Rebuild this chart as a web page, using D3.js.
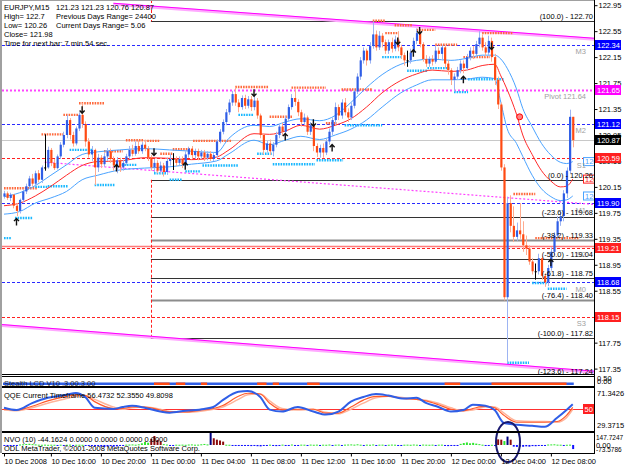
<!DOCTYPE html>
<html>
<head>
<meta charset="utf-8">
<script src="https://cdn.jsdelivr.net/npm/d3@7"></script>
<style>
  body { margin: 0; background: #fff; }
  svg { display: block; }
  text { font-family: "Liberation Sans", Arial, sans-serif; font-size: 7.5px; }
  text.small { font-size: 6.5px; }
</style>
</head>
<body>
<svg id="chart" width="625" height="469"></svg>
<script>
// ---------- candles, EURJPY M15 (bar 0 = 10 Dec 12:15) ----------
const opens = [
  120.00,120.05,119.98,120.03,119.86,119.78,119.95,120.08,120.16,120.28,
  120.20,120.36,120.26,120.45,120.45,120.72,120.52,120.44,120.62,120.80,
  120.95,121.18,120.95,120.82,121.05,121.26,121.12,120.85,120.65,120.72,
  120.45,120.60,120.50,120.62,120.70,120.58,120.48,120.56,120.45,120.52,
  120.62,120.72,120.66,120.78,120.70,120.80,120.74,120.60,120.45,120.52,
  120.40,120.48,120.38,120.55,120.58,120.58,120.52,120.58,120.50,120.65,
  120.74,120.64,120.70,120.62,120.68,120.60,120.66,120.58,120.64,120.85,
  121.00,121.15,121.30,121.45,121.58,121.45,121.38,121.52,121.40,121.50,
  121.38,121.48,121.25,120.95,120.72,120.82,120.70,120.80,120.95,121.08,
  121.00,121.20,121.38,121.52,121.46,121.30,121.15,121.22,121.00,121.10,
  120.78,120.68,120.75,120.68,120.85,121.00,121.18,121.38,121.25,121.45,
  121.30,121.22,121.40,121.62,121.85,122.10,122.25,122.10,122.32,122.50,
  122.30,122.48,122.38,122.25,122.38,122.28,122.42,122.30,122.18,122.10,
  122.10,122.22,122.40,122.52,122.35,122.12,122.05,122.12,122.08,122.25,
  122.20,122.30,122.05,121.95,121.80,121.85,121.95,122.05,121.98,122.15,
  122.25,122.20,122.35,122.45,122.30,122.22,122.40,122.15,121.80,121.42,
  120.45,118.45,119.90,119.55,119.38,119.48,119.42,119.25,119.20,119.00,
  118.85,118.85,119.05,118.78,118.68,118.90,119.15,119.40,119.62,119.70,
  120.05,120.40,121.23];
const highs = [
  120.09,120.08,120.06,120.04,119.90,119.97,120.11,120.20,120.32,120.35,
  120.40,120.41,120.48,120.96,120.77,120.75,120.58,120.65,120.84,121.00,
  121.26,121.21,121.00,121.08,121.30,121.44,121.16,120.90,120.78,120.74,
  120.66,120.64,120.67,120.75,120.74,120.62,120.61,120.60,120.57,120.66,
  120.78,120.80,120.85,120.86,120.84,120.87,120.78,120.64,120.58,120.56,
  120.54,120.52,120.60,120.66,120.67,120.62,120.62,120.62,120.70,120.77,
  120.78,120.74,120.74,120.72,120.72,120.70,120.70,120.68,120.88,121.04,
  121.19,121.35,121.50,121.63,121.69,121.50,121.56,121.57,121.55,121.55,
  121.56,121.52,121.28,120.98,120.86,120.88,120.84,121.00,121.12,121.14,
  121.24,121.42,121.58,121.65,121.50,121.34,121.28,121.25,121.15,121.12,
  120.82,120.80,120.82,120.90,121.05,121.22,121.45,121.42,121.50,121.52,
  121.36,121.45,121.66,121.90,122.15,122.30,122.28,122.38,122.70,122.56,
  122.55,122.52,122.42,122.42,122.45,122.48,122.55,122.34,122.22,122.25,
  122.28,122.45,122.59,122.56,122.38,122.18,122.16,122.18,122.32,122.30,
  122.34,122.32,122.10,121.98,121.90,122.00,122.10,122.10,122.20,122.30,
  122.32,122.40,122.55,122.50,122.38,122.48,122.45,122.20,121.85,121.45,
  120.50,120.00,120.02,119.85,119.60,119.90,119.62,119.40,119.25,119.05,
  118.97,119.12,119.08,118.82,118.95,119.22,119.45,119.70,119.78,120.10,
  120.45,121.34,121.23];
const lows = [
  119.97,119.95,119.93,119.82,119.70,119.74,119.92,120.04,120.12,120.16,
  120.17,120.22,120.21,120.40,120.43,120.47,120.41,120.42,120.58,120.76,
  120.90,120.88,120.77,120.79,121.01,121.06,120.77,120.60,120.55,120.18,
  120.38,120.44,120.46,120.55,120.52,120.40,120.36,120.38,120.40,120.48,
  120.58,120.62,120.63,120.66,120.66,120.70,120.55,120.40,120.38,120.36,
  120.35,120.31,120.34,120.48,120.41,120.47,120.48,120.44,120.46,120.60,
  120.58,120.58,120.56,120.58,120.55,120.56,120.55,120.55,120.60,120.82,
  120.96,121.10,121.26,121.40,121.40,121.30,121.34,121.35,121.36,121.32,
  121.33,121.20,120.90,120.65,120.68,120.64,120.62,120.76,120.90,120.94,
  120.97,121.16,121.34,121.40,121.24,121.08,121.10,120.95,120.95,120.70,
  120.61,120.60,120.60,120.64,120.80,120.95,121.12,121.18,121.20,121.25,
  121.15,121.18,121.36,121.58,121.80,122.05,122.02,122.05,122.28,122.25,
  122.26,122.30,122.20,122.20,122.22,122.24,122.24,122.12,122.02,122.00,
  122.05,122.18,122.35,122.30,122.08,122.00,122.00,122.02,122.05,122.12,
  122.10,121.98,121.88,121.72,121.62,121.80,121.90,121.90,121.95,122.10,
  122.12,122.15,122.30,122.25,122.15,122.18,122.08,121.72,121.35,120.40,
  118.40,117.43,119.45,119.30,119.32,119.35,119.15,119.10,118.95,118.80,
  118.72,118.80,118.72,118.61,118.62,118.86,119.10,119.35,119.55,119.62,
  119.98,120.35,120.76];
const closes = [
  120.05,119.98,120.03,119.86,119.78,119.95,120.08,120.16,120.28,120.20,
  120.36,120.26,120.45,120.45,120.72,120.52,120.44,120.62,120.80,120.95,
  121.18,120.95,120.82,121.05,121.26,121.12,120.85,120.65,120.72,120.45,
  120.60,120.50,120.62,120.70,120.58,120.48,120.56,120.45,120.52,120.62,
  120.72,120.66,120.78,120.70,120.80,120.74,120.60,120.45,120.52,120.40,
  120.48,120.38,120.55,120.58,120.58,120.52,120.58,120.50,120.65,120.74,
  120.64,120.70,120.62,120.68,120.60,120.66,120.58,120.64,120.85,121.00,
  121.15,121.30,121.45,121.58,121.45,121.38,121.52,121.40,121.50,121.38,
  121.48,121.25,120.95,120.72,120.82,120.70,120.80,120.95,121.08,121.00,
  121.20,121.38,121.52,121.46,121.30,121.15,121.22,121.00,121.10,120.78,
  120.68,120.75,120.68,120.85,121.00,121.18,121.38,121.25,121.45,121.30,
  121.22,121.40,121.62,121.85,122.10,122.25,122.10,122.32,122.50,122.30,
  122.48,122.38,122.25,122.38,122.28,122.42,122.30,122.18,122.10,122.10,
  122.22,122.40,122.52,122.35,122.12,122.05,122.12,122.08,122.25,122.20,
  122.30,122.05,121.95,121.80,121.85,121.95,122.05,121.98,122.15,122.25,
  122.20,122.35,122.45,122.30,122.22,122.40,122.15,121.80,121.42,120.45,
  118.45,119.90,119.55,119.38,119.48,119.42,119.25,119.20,119.00,118.85,
  118.85,119.05,118.78,118.68,118.90,119.15,119.40,119.62,119.70,120.05,
  120.40,121.23,120.87];

// moving average + envelope, read at a few bars
const maBars  = [0,5,10,15,20,25,30,37,45,53,60,68,72,80,85,90,95,101,106,111,116,121,127,132,137,143,148,153,157,159,161,164,166,169,172,175,178,180,182];
const maMid   = [119.86,119.90,120.01,120.16,120.33,120.48,120.54,120.55,120.60,120.59,120.57,120.61,120.72,120.97,120.96,121.01,121.10,121.04,121.10,121.20,121.38,121.60,121.79,121.89,121.95,121.93,121.95,122.02,122.04,121.86,121.65,121.27,120.95,120.65,120.40,120.24,120.15,120.16,120.27];
const maUpper = [120.00,120.06,120.17,120.33,120.49,120.65,120.69,120.72,120.74,120.72,120.70,120.68,120.90,121.10,121.08,121.15,121.20,121.17,121.25,121.45,121.68,121.88,122.04,122.10,122.12,122.10,122.13,122.18,122.18,122.12,121.98,121.66,121.36,121.08,120.82,120.64,120.53,120.51,120.54];
const maLower = [119.73,119.77,119.90,119.98,120.08,120.26,120.33,120.41,120.44,120.46,120.50,120.55,120.66,120.87,120.80,120.87,120.93,120.88,120.95,121.04,121.18,121.38,121.60,121.72,121.80,121.80,121.81,121.84,121.82,121.45,121.05,120.82,120.62,120.33,120.12,120.00,119.94,119.95,120.01];

// pivot levels
const pivotPrices = [122.34, 121.65, 121.12, 120.59, 119.90, 119.21, 118.68, 118.15];
const pivotNames  = ["M3", "Pivot 121.64", "M2", "S1", "M1", "S2", "M0", "S3"];
const pivotTypes  = ["mid", "pivot", "mid", "sup", "mid", "sup", "mid", "sup"];

// fibonacci
const fibLevels = ["100.0", "0.0", "-23.6", "-38.2", "-50.0", "-61.8", "-76.4", "-100.0", "-123.6"];
const fibPrices = [122.70, 120.26, 119.68, 119.33, 119.04, 118.75, 118.40, 117.82, 117.24];
const fibStartBar = 47;

// trend channel [bar, price] pairs
const channelTop = [[35, 122.98], [189, 122.44]];
const channelBottom = [[-1, 118.03], [189, 117.31]];
const channelMid = [[13, 120.53], [189, 119.88]];

// fractal levels [startBar, endBar, price]
const resistLevels = [[0,10.6,120.13],[12,19,120.96],[19,24,121.26],[24,32,121.44],[32,38,120.70],[39,44.5,120.87],
  [45,50,120.86],[50,54,120.66],[54,59.5,120.73],[60.5,73,120.86],[74,84.5,121.69],[85,92.5,121.23],[92,103,121.68],
  [103,106.5,121.13],[108,118,121.65],[118,122,122.71],[122,126,122.52],[125,130.5,122.64],[132,138,122.57],
  [138,145,122.34],[147,155.5,122.15],[153,163,122.52],[163,170,120.04],[170,184,119.36]];
const supportLevels = [[0,2.5,119.36],[3.5,9,119.67],[10,14,120.15],[14,20.5,120.16],[21,28.5,120.72],[29,35.5,120.18],
  [36,42.5,120.49],[48,52.5,120.36],[53,57,120.26],[58,63,120.39],[63.5,75,120.48],[75,80,121.26],[81,86,120.66],
  [86,99.5,120.50],[100,108.5,120.56],[109,121,121.10],[121,127.5,122.15],[129,135.5,121.94],[135.5,142.5,121.98],
  [144,148.5,121.61],[148.5,160,121.81],[161,168,117.44],[169,174,118.67],[174,180,118.58]];

// fractal arrows
const arrowBars   = [25, 48, 80, 99, 126, 133, 156, 4, 36, 58, 90, 105, 131, 147, 175];
const arrowPrices = [121.34, 120.69, 121.60, 121.14, 122.40, 122.56, 122.32, 119.61, 120.44, 120.47, 120.92, 120.75, 122.21, 121.80, 118.98];
const arrowDirs   = ["down","down","down","down","down","down","down","up","up","up","up","up","up","up","up"];

// price axis
const priceTicks = [117.35,117.75,118.15,118.55,118.95,119.35,119.75,120.15,120.55,120.95,121.35,121.75,122.15,122.55,122.95];

// time axis
const timeBars = [0, 15, 31, 47, 63, 79, 95, 111, 127, 143, 159, 175];
const timeLabels = ["10 Dec 2008", "10 Dec 16:00", "10 Dec 20:00", "11 Dec 00:00", "11 Dec 04:00", "11 Dec 08:00",
  "11 Dec 12:00", "11 Dec 16:00", "11 Dec 20:00", "12 Dec 00:00", "12 Dec 04:00", "12 Dec 08:00"];

// Stealth LCD red stretches [startBar, endBar]
const lcdRed = [[48,53],[55,58],[63,65],[81,84],[86,88],[97,101],[141,146],[156,180]];

// QQE
const qqeBars  = [0,4,9,14,20,23,26,29,35,38,41,45,50,53,58,64,67,70,75,78,82,85,89,94,99,103,107,111,115,119,123,128,132,135,139,143,147,150,154,157,160,164,169,173,177,180,182];
const qqeFast  = [52,49,58,65,69,71.5,66,52,50.5,53,54.5,52,47,45.5,48,50.5,53,62,73,74,66,49.5,47,53,47,43,47,60,66,70,68,64,65,58.5,53,47,49,56,54.5,49,32,29.7,28.3,27,38.8,49,56.5];
const qqeSlow  = [50,49,54,61,67,69,68,60,51,51,53,53,49,46.5,46.5,49.5,51,55,67,71,70,58,49,50,50,45,45,53,62,67,67,64,63,61,56,50,48,51,54,52,42,33,33,33,34,42,52.4];
const qqeTrail = [49,48,52,58,64,67,68,63,53,50,52,53,50,47,46,48,50,53,63,69,70,61,51,49,50,46,44,50,58,65,67,65,63,62,58,52,48,49,53,53,45,35,34,34,33,39,49.8];

// NVO histogram
const nvo = [
  -15,-20,-10,-8,-12,8,12,18,22,15,   10,5,4,6,3,5,4,-6,5,-8,
  4,6,-5,4,5,3,-10,-15,-20,-25,       -18,-30,-35,-28,-22,-30,-25,-15,-10,6,
  8,10,5,12,30,55,40,110,160,90,      60,15,8,-10,-6,5,4,6,3,8,
  10,5,6,12,18,10,215,120,95,80,      60,5,4,-4,-6,-5,-8,-12,-18,-20,
  -15,-22,-25,-10,-18,5,-12,-20,-15,6, -10,-14,8,-8,-12,6,5,-6,7,4,
  6,-5,5,4,8,-6,5,7,-4,6,             8,10,6,12,5,-8,6,4,9,-5,
  5,6,-6,4,7,5,-8,-10,5,6,            4,8,5,-6,7,5,4,6,-5,5,
  6,-15,-20,-12,-10,-6,20,35,45,30,   38,25,15,5,-6,-10,4,-12,100,95,
  70,150,95,-30,-35,-28,-32,-25,-30,-20, -22,-15,-18,-12,8,10,12,6,5,-5,
  4,6,-73];
const nvoStrongBars = [47,48,49,50,67,68,69,70,158,159,162];
const nvoPeakBars = [66,161];

// ---------- layout ----------
const W = 625, H = 469;
const left = 2, right = 594;
const mainTop = 1, mainBottom = 374;

const x = d3.scaleLinear().domain([0, closes.length - 1]).range([4, 572.75]);
const y = d3.scaleLinear().domain([117.35, 122.95]).range([368.6, 5.2]);
const yQ = d3.scaleLinear().domain([29.3715, 71.3426]).range([425, 393]);
const yN = d3.scaleLinear().domain([-73.5786, 147.7247]).range([449.1, 436.7]);
const crisp = v => Math.round(v) + 0.5;

const svg = d3.select("#chart");
svg.append("rect").attr("width", W).attr("height", H).attr("fill", "#fff");

const defs = svg.append("defs");
defs.append("clipPath").attr("id", "clipMain").append("rect")
  .attr("x", left).attr("y", mainTop).attr("width", right - left).attr("height", mainBottom - mainTop);
defs.append("clipPath").attr("id", "clipQ").append("rect")
  .attr("x", left).attr("y", 388).attr("width", right - left).attr("height", 43);

const main = svg.append("g").attr("clip-path", "url(#clipMain)");

const typeColor = { mid: "#2a2aff", pivot: "#ff44ff", sup: "#ff2020" };

// pivot lines
pivotPrices.forEach((p, i) => {
  const t = pivotTypes[i];
  main.append("line")
    .attr("x1", left).attr("x2", right).attr("y1", crisp(y(p))).attr("y2", crisp(y(p)))
    .attr("stroke", typeColor[t])
    .attr("stroke-width", t === "pivot" ? 2 : 1)
    .attr("stroke-dasharray", t === "pivot" ? "2,2" : "3,2");
});
// extra solid line just above S2
main.append("line").attr("x1", left).attr("x2", right)
  .attr("y1", crisp(y(119.24))).attr("y2", crisp(y(119.24)))
  .attr("stroke", "#ff7a7a").attr("stroke-width", 1.5);

// bid line
const bid = closes[closes.length - 1];
main.append("line").attr("x1", left).attr("x2", right)
  .attr("y1", crisp(y(bid))).attr("y2", crisp(y(bid)))
  .attr("stroke", "#c8c8c8");

// fibonacci
fibPrices.forEach((p, i) => {
  const lvl = fibLevels[i];
  const grey = lvl === "-38.2" || lvl === "-76.4";
  main.append("line")
    .attr("x1", x(fibStartBar)).attr("x2", right)
    .attr("y1", crisp(y(p))).attr("y2", crisp(y(p)))
    .attr("stroke", grey ? "#8c8c8c" : "#333")
    .attr("stroke-width", grey ? 2 : 1);
});
const fx = crisp(x(fibStartBar));
main.append("line").attr("x1", fx).attr("x2", fx).attr("y1", 0).attr("y2", y(fibPrices[0]))
  .attr("stroke", "#ff2020").attr("stroke-dasharray", "3,2");
main.append("line").attr("x1", fx).attr("x2", fx).attr("y1", y(fibPrices[1])).attr("y2", y(fibPrices[7]))
  .attr("stroke", "#ff2020").attr("stroke-dasharray", "3,2");

// channel
const seg = d3.line().x(d => x(d[0])).y(d => y(d[1]));
[channelTop, channelBottom].forEach(c => {
  main.append("path").attr("d", seg(c)).attr("stroke", "#ffa8ff").attr("stroke-width", 3).attr("fill", "none")
    .attr("transform", "translate(0,1)");
  main.append("path").attr("d", seg(c)).attr("stroke", "#ff00ff").attr("stroke-width", 1).attr("fill", "none");
});
main.append("path").attr("d", seg(channelMid)).attr("stroke", "#ff40ff").attr("stroke-width", 1.2)
  .attr("stroke-dasharray", "2,2").attr("fill", "none");

// fractal levels
function levels(data, color) {
  main.selectAll(null).data(data).join("line")
    .attr("x1", d => x(d[0])).attr("x2", d => x(d[1]))
    .attr("y1", d => y(d[2])).attr("y2", d => y(d[2]))
    .attr("stroke", color).attr("stroke-width", 2.4).attr("stroke-dasharray", "1.6,1");
}
levels(resistLevels, "#ff6a3d");
levels(supportLevels, "#1ab8ff");

// moving averages
const maLine = arr => d3.line().curve(d3.curveMonotoneX)
  .x((d, i) => x(maBars[i])).y(d => y(d))(arr);
main.append("path").attr("d", maLine(maUpper)).attr("stroke", "#4aa3ff").attr("fill", "none");
main.append("path").attr("d", maLine(maLower)).attr("stroke", "#4aa3ff").attr("fill", "none");
main.append("path").attr("d", maLine(maMid)).attr("stroke", "#ff2a2a").attr("fill", "none");

// candles
const bars = closes.map((c, i) => ({ i, o: opens[i], h: highs[i], l: lows[i], c }));
const candle = main.selectAll("g.candle").data(bars).join("g").attr("class", "candle");
candle.append("line")
  .attr("x1", d => crisp(x(d.i))).attr("x2", d => crisp(x(d.i)))
  .attr("y1", d => y(d.h)).attr("y2", d => y(d.l))
  .attr("stroke", d => d.c > d.o ? "#9db4f2" : d.c < d.o ? "#ffab8f" : "#000");
candle.append("rect")
  .attr("x", d => x(d.i) - 0.6).attr("width", 2.2)
  .attr("y", d => y(Math.max(d.o, d.c)))
  .attr("height", d => Math.max(1, Math.abs(y(d.o) - y(d.c))))
  .attr("fill", d => d.c > d.o ? "#2f5ee6" : d.c < d.o ? "#ff4a12" : "#000");

// arrows
arrowBars.forEach((b, i) => {
  const cx = x(b), cy = y(arrowPrices[i]);
  const s = arrowDirs[i] === "down" ? 1 : -1;
  main.append("path")
    .attr("d", `M${cx},${cy - 3.5 * s}V${cy + 3.5 * s}M${cx - 2.5},${cy + 0.8 * s}L${cx},${cy + 3.5 * s}L${cx + 2.5},${cy + 0.8 * s}`)
    .attr("stroke", "#111").attr("stroke-width", 1.4).attr("fill", "none");
});

// MA cross marker
main.append("circle").attr("cx", x(165)).attr("cy", y(121.23)).attr("r", 3)
  .attr("fill", "#ff8080").attr("stroke", "#ff0000");

// envelope price tags at right edge
[[maUpper, "#4aa3ff"], [maMid, "#ff2020"], [maLower, "#4aa3ff"]].forEach(([arr, col]) => {
  const v = arr[arr.length - 1];
  main.append("rect").attr("x", 583.5).attr("y", y(v) - 4).attr("width", 14).attr("height", 8)
    .attr("fill", "#fff").attr("stroke", col);
  main.append("text").attr("x", 585).attr("y", y(v) + 2.7).attr("fill", col).text(v.toFixed(2));
});

// pivot names
pivotPrices.forEach((p, i) => {
  main.append("text").attr("x", 586).attr("y", y(p) + 9.5).attr("text-anchor", "end")
    .attr("fill", "#a0a0a0").text(pivotNames[i]);
});

// fib texts
fibPrices.forEach((p, i) => {
  main.append("text").attr("x", 593).attr("y", y(p) - 2).attr("text-anchor", "end")
    .attr("fill", "#000").text(`(${fibLevels[i]}) - ${p.toFixed(2)}`);
});

// header
const header = [
  ["EURJPY,M15", `${opens[182].toFixed(2)} ${highs[182].toFixed(2)} ${lows[182].toFixed(2)} ${closes[182].toFixed(2)}`],
  ["High= 122.7", "Previous Days Range= 24400"],
  ["Low= 120.26", "Current Days Range= 5.06"],
  ["Close= 121.98", ""],
  ["Time for next bar: 7 min 54 sec.", ""]
];
header.forEach((r, i) => {
  svg.append("text").attr("x", 4).attr("y", 9.5 + i * 9).attr("fill", "#000").text(r[0]);
  if (r[1]) svg.append("text").attr("x", 56).attr("y", 9.5 + i * 9).attr("fill", "#000").text(r[1]);
});

// ---------- Stealth LCD panel ----------
svg.append("rect").attr("x", x(0) - 1).attr("y", 382.5).attr("width", x(182) - x(0) + 2).attr("height", 2.5)
  .attr("fill", "#2f5ee6");
lcdRed.forEach(r => {
  svg.append("rect").attr("x", x(r[0])).attr("y", 382.5).attr("width", x(r[1]) - x(r[0])).attr("height", 2.5)
    .attr("fill", "#ff4a12");
});
svg.append("text").attr("x", 4).attr("y", 385.5).attr("fill", "#000").attr("opacity", 0.8)
  .text("Stealth LCD V10 ,3.00,3.00");

// ---------- QQE panel ----------
const q = svg.append("g").attr("clip-path", "url(#clipQ)");
q.append("line").attr("x1", left).attr("x2", right).attr("y1", crisp(yQ(50))).attr("y2", crisp(yQ(50)))
  .attr("stroke", "#ff3030");
const qLine = arr => d3.line().curve(d3.curveMonotoneX).x((d, i) => x(qqeBars[i])).y(d => yQ(d))(arr);
q.append("path").attr("d", qLine(qqeTrail)).attr("stroke", "#ffb49a").attr("stroke-width", 1.5).attr("fill", "none");
q.append("path").attr("d", qLine(qqeSlow)).attr("stroke", "#ff5a2a").attr("stroke-width", 1.2).attr("fill", "none");
q.append("path").attr("d", qLine(qqeFast)).attr("stroke", "#2f5ee6").attr("stroke-width", 2).attr("fill", "none");
svg.append("text").attr("x", 4).attr("y", 397.5).attr("fill", "#000")
  .text("QQE Current Timeframe 56.4732 52.3550 49.8098");

// ---------- NVO panel ----------
const strong = new Set(nvoStrongBars), peak = new Set(nvoPeakBars);
svg.append("g").selectAll("rect").data(nvo).join("rect")
  .attr("x", (d, i) => x(i) - 0.6).attr("width", 2)
  .attr("y", d => yN(Math.max(0, d)))
  .attr("height", d => Math.max(1, Math.abs(yN(d) - yN(0))))
  .attr("fill", (d, i) => peak.has(i) ? "#000080" : strong.has(i) ? "#8b0a0a" : d < 0 ? "#1010ff" : "#2ee62e");
svg.append("text").attr("x", 4).attr("y", 441.5).attr("fill", "#000")
  .text("NVO (10) -44.1624 0.0000 0.0000 0.0000 0.0000");
svg.append("text").attr("x", 4).attr("y", 451).attr("fill", "#000")
  .text("ODL MetaTrader, \u00a92001-2008 MetaQuotes Software Corp.");
svg.append("ellipse").attr("cx", 508).attr("cy", 442).attr("rx", 12).attr("ry", 20)
  .attr("fill", "none").attr("stroke", "#1a1a70").attr("stroke-width", 2);

// ---------- frames ----------
svg.append("rect").attr("x", 0).attr("y", 0).attr("width", 2).attr("height", 453).attr("fill", "#a0a0a0");
svg.append("line").attr("x1", left).attr("x2", right).attr("y1", 0.5).attr("y2", 0.5).attr("stroke", "#a0a0a0");
[374.5, 376.5, 386.5, 387.5, 431.5, 432.5, 453.5].forEach(v => {
  svg.append("line").attr("x1", left).attr("x2", right).attr("y1", v).attr("y2", v).attr("stroke", "#000");
});
svg.append("line").attr("x1", right + 0.5).attr("x2", right + 0.5).attr("y1", 0).attr("y2", 454).attr("stroke", "#000");

// price axis
const yAxis = d3.axisRight(y).tickValues(priceTicks).tickSize(3).tickFormat(d3.format(".2f"));
svg.append("g").attr("transform", `translate(${right + 0.5},0)`).call(yAxis)
  .call(g => g.select(".domain").remove())
  .call(g => g.selectAll("text").attr("x", 4).attr("fill", "#000"));

// price tags
const tags = pivotPrices.map((p, i) => [p, typeColor[pivotTypes[i]]]).concat([[bid, "#000"]]);
tags.forEach(([p, col]) => {
  svg.append("rect").attr("x", right + 1).attr("y", Math.round(y(p)) - 5).attr("width", 26).attr("height", 10)
    .attr("fill", col === "#ff44ff" ? "#ff00ff" : col === "#2a2aff" ? "#0000ff" : col);
  svg.append("text").attr("x", right + 3).attr("y", Math.round(y(p)) + 3).attr("fill", "#fff").text(p.toFixed(2));
});

// sub-panel scales
svg.append("text").attr("x", right + 3).attr("y", 380.5).attr("fill", "#000").text("0.50");
svg.append("text").attr("x", right + 3).attr("y", 383.5).attr("fill", "#000").text("0.00");
svg.append("text").attr("x", right + 3).attr("y", yQ(71.3426) + 3).attr("fill", "#000").text("71.3426");
svg.append("text").attr("x", right + 3).attr("y", yQ(29.3715) + 3).attr("fill", "#000").text("29.3715");
svg.append("rect").attr("x", right - 11).attr("y", Math.round(yQ(50)) - 5).attr("width", 11).attr("height", 10).attr("fill", "#ff2020");
svg.append("text").attr("x", right - 9.5).attr("y", Math.round(yQ(50)) + 3).attr("fill", "#fff").text("50");
[147.7247, 0, -73.5786].forEach(v => {
  svg.append("text").attr("class", v === 0 ? null : "small")
    .attr("x", right + 2).attr("y", yN(v) + 3).attr("fill", "#000")
    .text(v === 0 ? "0.00" : v.toFixed(4));
});

// time axis
const xAxis = d3.axisBottom(x).tickValues(timeBars).tickSize(3).tickFormat((d, i) => timeLabels[i]);
svg.append("g").attr("transform", "translate(0,453.5)").call(xAxis)
  .call(g => g.select(".domain").remove())
  .call(g => g.selectAll("text").attr("text-anchor", "start").attr("y", 10).attr("dy", 0).attr("fill", "#000"));
</script>
</body>
</html>
